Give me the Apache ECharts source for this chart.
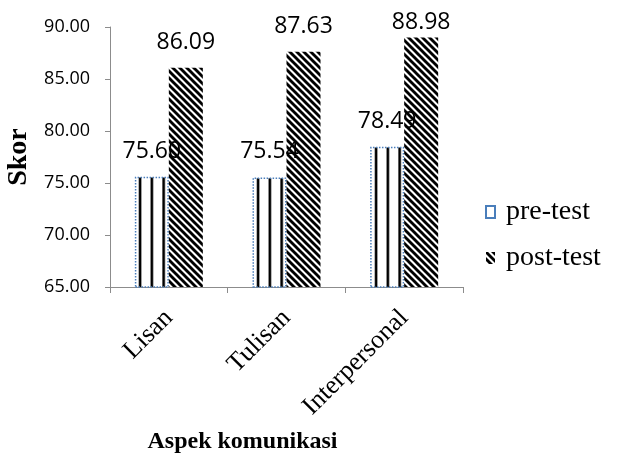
<!DOCTYPE html>
<html>
<head>
<meta charset="utf-8">
<script src="https://cdn.jsdelivr.net/npm/echarts@6/dist/echarts.min.js"></script>
<style>
  html, body { margin: 0; padding: 0; background: #fff; }
  #chart { width: 618px; height: 460px; }
</style>
</head>
<body>
<div id="chart"></div>
<script>
// Aspect categories and mean scores
const categories = ['Lisan', 'Tulisan', 'Interpersonal'];
const preTest = [75.60, 75.54, 78.49];
const postTest = [86.09, 87.63, 88.98];
const seriesNames = ['pre-test', 'post-test'];
const yMin = 65, yMax = 90, yStep = 5;

// Vertical-line fill for the pre-test bars
function verticalLines() {
  const w = 118, h = 16;
  const c = document.createElement('canvas');
  c.width = w; c.height = h;
  const g = c.getContext('2d');
  g.fillStyle = '#fff';
  g.fillRect(0, 0, w, h);
  for (let k = 0; k < 10; k++) {
    const x = (22 + k * 11.8) % w;
    g.fillStyle = '#777';
    g.fillRect(x - 1.5, 0, 3.2, h);
    g.fillStyle = '#000';
    g.fillRect(x - 0.9, 0, 1.9, h);
  }
  return c;
}

// Diagonal-stripe fill for the post-test bars
function diagonalStripes() {
  const s = 7;
  const c = document.createElement('canvas');
  c.width = s; c.height = s;
  const g = c.getContext('2d');
  g.fillStyle = '#fff';
  g.fillRect(0, 0, s, s);
  g.strokeStyle = '#000';
  g.lineWidth = 2.9;
  for (const k of [-s, 0, s]) {
    g.beginPath();
    g.moveTo(k - 1, -1);
    g.lineTo(k + s + 1, s + 1);
    g.stroke();
  }
  return c;
}

const serif = '"Liberation Serif", "Times New Roman", serif';
const sans = '"Open Sans", "Liberation Sans", sans-serif';

const chart = echarts.init(document.getElementById('chart'), null, { renderer: 'canvas' });

const labelStyle = {
  show: true,
  position: 'top',
  distance: 14,
  color: '#000',
  fontFamily: sans,
  fontSize: 23,
  formatter: p => p.value.toFixed(2)
};

// Values close to the top of the axis keep their label tucked nearer the bar
function withLabels(values) {
  return values.map(v => (yMax - v < 1.5 ? { value: v, label: { distance: 4 } } : v));
}

chart.setOption({
  animation: false,
  backgroundColor: '#fff',
  grid: {
    left: 110, right: 155, top: 27, bottom: 173,
    containLabel: false,
    outerBoundsMode: 'none'
  },
  legend: {
    orient: 'vertical',
    left: 480,
    top: 193,
    icon: 'rect',
    itemWidth: 9,
    itemHeight: 12,
    itemGap: 18,
    data: seriesNames,
    textStyle: { fontFamily: serif, fontSize: 28, color: '#000', padding: [0, 0, 0, 6] }
  },
  xAxis: {
    type: 'category',
    data: categories,
    name: 'Aspek komunikasi',
    nameLocation: 'middle',
    nameGap: 143,
    nameTextStyle: {
      fontFamily: serif, fontSize: 24, fontWeight: 'bold', color: '#000',
      padding: [0, 88, 0, 0]
    },
    axisLine: { lineStyle: { color: '#8c8c8c', width: 1 } },
    axisTick: { show: true, length: 6, lineStyle: { color: '#8c8c8c' } },
    axisLabel: {
      rotate: 45,
      margin: 27,
      color: '#000',
      fontFamily: serif,
      fontSize: 26
    }
  },
  yAxis: {
    type: 'value',
    min: yMin,
    max: yMax,
    interval: yStep,
    name: 'Skor',
    nameLocation: 'middle',
    nameGap: 75,
    nameTextStyle: { fontFamily: serif, fontSize: 28, fontWeight: 'bold', color: '#000' },
    axisLine: { show: true, lineStyle: { color: '#8c8c8c', width: 1 } },
    axisTick: { show: true, length: 5, lineStyle: { color: '#8c8c8c' } },
    splitLine: { show: false },
    axisLabel: {
      margin: 20,
      color: '#000',
      fontFamily: sans,
      fontSize: 18,
      formatter: v => v.toFixed(2)
    }
  },
  series: [
    {
      name: seriesNames[0],
      type: 'bar',
      data: withLabels(preTest),
      barWidth: 34,
      barGap: '0%',
      itemStyle: {
        color: { image: verticalLines(), repeat: 'repeat' },
        borderColor: '#4a7ebb',
        borderWidth: 1.5,
        borderType: 'dotted'
      },
      label: labelStyle
    },
    {
      name: seriesNames[1],
      type: 'bar',
      data: withLabels(postTest),
      barWidth: 34,
      barGap: '0%',
      itemStyle: {
        color: { image: diagonalStripes(), repeat: 'repeat' }
      },
      label: labelStyle
    }
  ]
});
</script>
</body>
</html>
